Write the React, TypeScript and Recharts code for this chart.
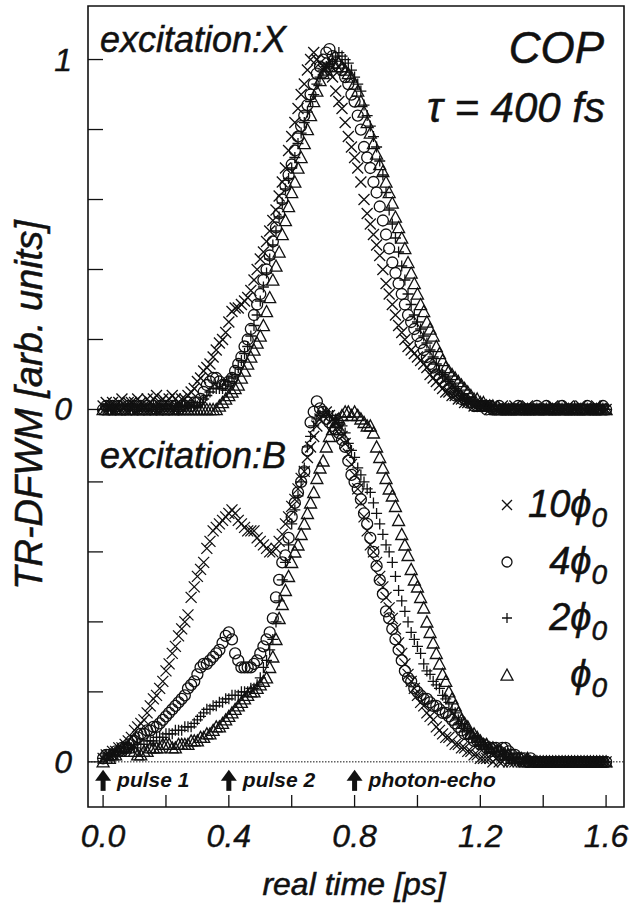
import React from "react";
import { ScatterChart, Scatter, XAxis, YAxis, ReferenceLine, ReferenceArea } from "recharts";

const W = 637;
const H = 905;
const DT = 0.01; // sampling step of the delay scan [ps]
const TOP_OFFSET = 1.007; // excitation:X traces are stacked above excitation:B
const X_MIN = -0.048;
const X_MAX = 1.657;
const Y_MIN = -0.129;
const Y_MAX = 2.16;

const X_TICKS = [0, 0.2, 0.4, 0.6, 0.8, 1.0, 1.2, 1.4, 1.6];
const X_TICK_LABELS = ["0.0", "", "0.4", "", "0.8", "", "1.2", "", "1.6"];
const PANEL_TICKS_BOTTOM = [0, 0.2, 0.4, 0.6, 0.8];
const PANEL_TICKS_TOP = [0, 0.2, 0.4, 0.6, 0.8, 1.0];

const PULSE_TIMES = [0, 0.4, 0.8];
const PULSE_LABELS = ["pulse 1", "pulse 2", "photon-echo"];
const PULSE_LEVEL = -0.06;

// excitation:X, 0.00 .. 1.60 ps
const TOP_10 = [
  0.01, 0.02, 0.01, 0.02, 0.01, 0.02, 0.03, 0.01, 0.02, 0.02,
  0.02, 0.03, 0.02, 0.01, 0.03, 0.02, 0.03, 0.04, 0.02, 0.03,
  0.02, 0.03, 0.04, 0.03, 0.02, 0.03, 0.03, 0.04, 0.05, 0.06,
  0.08, 0.09, 0.11, 0.12, 0.13, 0.15, 0.17, 0.19, 0.2, 0.22,
  0.25, 0.28, 0.29, 0.29, 0.3, 0.31, 0.32, 0.34, 0.37, 0.4,
  0.43, 0.45, 0.48, 0.51, 0.54, 0.57, 0.61, 0.65, 0.69, 0.74,
  0.78, 0.82, 0.86, 0.9, 0.93, 0.97, 1.0, 1.02, 1.0, 0.99,
  0.97, 0.98, 0.96, 0.95, 0.91, 0.88, 0.86, 0.82, 0.78, 0.75,
  0.72, 0.69, 0.65, 0.6, 0.56, 0.53, 0.5, 0.47, 0.44, 0.4,
  0.36, 0.33, 0.3, 0.27, 0.24, 0.22, 0.2, 0.18, 0.17, 0.16,
  0.15, 0.14, 0.13, 0.12, 0.1, 0.09, 0.08, 0.07, 0.06, 0.05,
  0.05, 0.04, 0.04, 0.03, 0.03, 0.02, 0.02, 0.02, 0.01, 0.01,
  0.01, 0.01, 0.01, 0, 0.01, 0, 0, 0.01, 0, 0,
  0, 0.01, 0, 0, 0, 0.01, 0, 0, 0, 0,
  0, 0, 0, 0.01, 0, 0, 0, 0, 0.01, 0,
  0, 0, 0.01, 0, 0, 0, 0, 0.01, 0, 0,
  0,
];
const TOP_4 = [
  0, 0.01, 0, 0.01, 0, 0.01, 0, 0, 0.01, 0,
  0.01, 0, 0.01, 0, 0.01, 0, 0.01, 0, 0.01, 0,
  0.01, 0, 0.01, 0.01, 0, 0.01, 0.01, 0.02, 0.01, 0.02,
  0.02, 0.03, 0.05, 0.07, 0.08, 0.09, 0.09, 0.08, 0.07, 0.07,
  0.08, 0.09, 0.11, 0.13, 0.15, 0.18, 0.2, 0.23, 0.27, 0.3,
  0.33, 0.37, 0.4, 0.44, 0.48, 0.52, 0.56, 0.6, 0.64, 0.67,
  0.7, 0.74, 0.78, 0.81, 0.84, 0.87, 0.9, 0.93, 0.96, 0.98,
  1.0, 1.02, 1.03, 1.01, 0.99, 0.98, 0.97, 0.95, 0.93, 0.9,
  0.88, 0.84, 0.8, 0.75, 0.72, 0.69, 0.65, 0.62, 0.58, 0.54,
  0.5, 0.46, 0.42, 0.39, 0.36, 0.33, 0.3, 0.27, 0.25, 0.23,
  0.21, 0.19, 0.17, 0.15, 0.13, 0.12, 0.1, 0.09, 0.08, 0.07,
  0.06, 0.05, 0.04, 0.04, 0.03, 0.03, 0.02, 0.02, 0.01, 0.01,
  0.01, 0.01, 0, 0.01, 0, 0, 0.01, 0, 0, 0,
  0, 0, 0.01, 0, 0, 0, 0, 0, 0.01, 0,
  0, 0.01, 0, 0, 0, 0, 0.01, 0, 0, 0,
  0, 0, 0, 0, 0.01, 0, 0, 0, 0, 0.01,
  0,
];
const TOP_2 = [
  0, 0, 0.01, 0, 0, 0.01, 0, 0, 0, 0.01,
  0, 0, 0.01, 0, 0, 0, 0.01, 0, 0, 0,
  0.01, 0, 0, 0.01, 0, 0.01, 0.01, 0.01, 0.02, 0.01,
  0.01, 0.02, 0.03, 0.04, 0.05, 0.06, 0.06, 0.06, 0.06, 0.07,
  0.08, 0.09, 0.1, 0.12, 0.14, 0.16, 0.18, 0.21, 0.24, 0.27,
  0.31, 0.35, 0.39, 0.43, 0.47, 0.51, 0.55, 0.59, 0.63, 0.66,
  0.69, 0.72, 0.76, 0.79, 0.82, 0.85, 0.88, 0.9, 0.93, 0.95,
  0.97, 0.98, 0.99, 1.0, 1.01, 1.02, 1.01, 1.0, 0.99, 0.97,
  0.95, 0.93, 0.91, 0.87, 0.84, 0.81, 0.78, 0.75, 0.71, 0.67,
  0.62, 0.57, 0.53, 0.49, 0.45, 0.41, 0.37, 0.33, 0.3, 0.27,
  0.25, 0.23, 0.21, 0.19, 0.17, 0.15, 0.13, 0.11, 0.1, 0.09,
  0.08, 0.07, 0.06, 0.05, 0.04, 0.03, 0.03, 0.02, 0.02, 0.01,
  0.01, 0.01, 0.01, 0, 0.01, 0, 0, 0, 0, 0,
  0, 0, 0, 0.01, 0, 0, 0, 0, 0, 0,
  0, 0, 0, 0, 0, 0.01, 0, 0, 0, 0,
  0.01, 0, 0, 0, 0, 0, 0, 0, 0.01, 0,
  0,
];
const TOP_1 = [
  0, 0, 0, 0, 0, 0, 0, 0, 0, 0,
  0, 0, 0, 0, 0, 0, 0, 0, 0, 0,
  0, 0, 0, 0, 0, 0, 0, 0, 0, 0,
  0, 0, 0, 0, 0, 0, 0, 0.01, 0.02, 0.03,
  0.04, 0.05, 0.06, 0.07, 0.09, 0.11, 0.13, 0.15, 0.17, 0.19,
  0.21, 0.24, 0.28, 0.32, 0.37, 0.41, 0.45, 0.5, 0.54, 0.58,
  0.62, 0.65, 0.69, 0.72, 0.76, 0.8, 0.84, 0.88, 0.91, 0.94,
  0.96, 0.97, 0.98, 0.99, 0.98, 0.99, 0.98, 0.97, 0.96, 0.95,
  0.93, 0.91, 0.88, 0.85, 0.82, 0.79, 0.76, 0.73, 0.7, 0.68,
  0.65, 0.62, 0.59, 0.55, 0.52, 0.49, 0.46, 0.42, 0.39, 0.36,
  0.33, 0.3, 0.28, 0.25, 0.23, 0.21, 0.18, 0.16, 0.14, 0.12,
  0.11, 0.1, 0.09, 0.08, 0.07, 0.06, 0.05, 0.04, 0.03, 0.03,
  0.02, 0.02, 0.01, 0.01, 0.01, 0, 0, 0, 0, 0,
  0, 0, 0, 0, 0, 0, 0, 0, 0, 0,
  0, 0, 0, 0, 0, 0, 0, 0, 0, 0,
  0, 0, 0, 0, 0, 0, 0, 0, 0, 0,
  0,
];

// excitation:B, 0.00 .. 1.60 ps
const BOT_10 = [
  0.01, 0.02, 0.02, 0.03, 0.03, 0.04, 0.04, 0.05, 0.06, 0.07,
  0.09, 0.1, 0.11, 0.12, 0.14, 0.16, 0.18, 0.19, 0.21, 0.23,
  0.26, 0.28, 0.31, 0.33, 0.36, 0.38, 0.4, 0.42, 0.47, 0.5,
  0.53, 0.55, 0.57, 0.61, 0.63, 0.66, 0.67, 0.68, 0.69, 0.7,
  0.71, 0.72, 0.71, 0.69, 0.68, 0.67, 0.66, 0.66, 0.66, 0.64,
  0.63, 0.62, 0.61, 0.6, 0.6, 0.61, 0.63, 0.65, 0.68, 0.7,
  0.73, 0.75, 0.78, 0.81, 0.83, 0.87, 0.9, 0.93, 0.96, 0.98,
  0.99, 1.0, 0.99, 0.98, 0.97, 0.95, 0.93, 0.91, 0.88, 0.85,
  0.82, 0.78, 0.74, 0.7, 0.66, 0.62, 0.6, 0.57, 0.53, 0.5,
  0.47, 0.44, 0.41, 0.38, 0.34, 0.31, 0.28, 0.25, 0.23, 0.21,
  0.19, 0.17, 0.16, 0.14, 0.13, 0.12, 0.1, 0.09, 0.08, 0.07,
  0.07, 0.06, 0.05, 0.05, 0.04, 0.04, 0.03, 0.03, 0.02, 0.02,
  0.01, 0.01, 0.01, 0.01, 0, 0.01, 0, 0, 0.01, 0,
  0, 0, 0, 0, 0, 0, 0, 0, 0, 0,
  0, 0, 0, 0, 0, 0, 0, 0, 0, 0,
  0, 0, 0, 0, 0, 0, 0, 0, 0, 0,
  0,
];
const BOT_4 = [
  0.01, 0.02, 0.02, 0.02, 0.03, 0.03, 0.04, 0.04, 0.05, 0.06,
  0.06, 0.07, 0.08, 0.08, 0.09, 0.09, 0.1, 0.1, 0.11, 0.12,
  0.13, 0.14, 0.15, 0.16, 0.17, 0.18, 0.19, 0.21, 0.22, 0.23,
  0.25, 0.27, 0.28, 0.28, 0.29, 0.3, 0.31, 0.32, 0.34, 0.36,
  0.37, 0.35, 0.31, 0.29, 0.27, 0.27, 0.27, 0.27, 0.28, 0.29,
  0.31, 0.33, 0.35, 0.37, 0.41, 0.47, 0.52, 0.57, 0.59, 0.64,
  0.7, 0.74, 0.77, 0.8, 0.83, 0.89, 0.97, 1.0, 1.03, 1.01,
  1.0, 0.98, 0.97, 0.96, 0.95, 0.94, 0.92, 0.9, 0.86, 0.82,
  0.8, 0.78, 0.75, 0.71, 0.68, 0.64, 0.6, 0.56, 0.52, 0.48,
  0.43, 0.41, 0.38, 0.35, 0.32, 0.29, 0.26, 0.24, 0.23, 0.21,
  0.2, 0.19, 0.18, 0.18, 0.17, 0.16, 0.16, 0.15, 0.14, 0.14,
  0.13, 0.12, 0.11, 0.1, 0.09, 0.08, 0.08, 0.07, 0.06, 0.06,
  0.05, 0.05, 0.04, 0.04, 0.04, 0.04, 0.03, 0.04, 0.04, 0.03,
  0.02, 0.02, 0.01, 0.01, 0.01, 0, 0.01, 0, 0, 0,
  0, 0, 0, 0, 0, 0, 0, 0, 0, 0,
  0, 0, 0, 0, 0, 0, 0, 0, 0, 0,
  0,
];
const BOT_2 = [
  0.01, 0.01, 0.02, 0.02, 0.02, 0.03, 0.03, 0.03, 0.04, 0.04,
  0.04, 0.05, 0.05, 0.05, 0.06, 0.06, 0.06, 0.07, 0.07, 0.07,
  0.08, 0.08, 0.08, 0.09, 0.09, 0.09, 0.1, 0.1, 0.1, 0.11,
  0.12, 0.13, 0.14, 0.15, 0.15, 0.16, 0.16, 0.17, 0.17, 0.18,
  0.18, 0.19, 0.19, 0.19, 0.2, 0.2, 0.2, 0.21, 0.21, 0.22,
  0.24, 0.27, 0.29, 0.32, 0.35, 0.4, 0.46, 0.52, 0.57, 0.62,
  0.68, 0.72, 0.76, 0.8, 0.84, 0.9, 0.93, 0.96, 0.98, 0.99,
  1.0, 1.0, 0.99, 0.99, 0.98, 0.97, 0.96, 0.94, 0.91, 0.89,
  0.87, 0.84, 0.82, 0.8, 0.78, 0.77, 0.74, 0.71, 0.68, 0.65,
  0.62, 0.6, 0.57, 0.53, 0.49, 0.46, 0.43, 0.4, 0.37, 0.35,
  0.33, 0.31, 0.28, 0.26, 0.25, 0.23, 0.22, 0.21, 0.19, 0.18,
  0.17, 0.15, 0.14, 0.12, 0.11, 0.1, 0.09, 0.08, 0.07, 0.06,
  0.05, 0.05, 0.04, 0.04, 0.03, 0.03, 0.02, 0.02, 0.02, 0.01,
  0.01, 0.01, 0.01, 0, 0, 0.01, 0, 0, 0, 0,
  0, 0, 0, 0, 0, 0, 0, 0, 0, 0,
  0, 0, 0, 0, 0, 0, 0, 0, 0, 0,
  0,
];
const BOT_1 = [
  0, 0.01, 0.01, 0.02, 0.02, 0.03, 0.04, 0.04, 0.04, 0.03,
  0.03, 0.02, 0.02, 0.03, 0.03, 0.04, 0.04, 0.04, 0.04, 0.05,
  0.05, 0.05, 0.04, 0.04, 0.05, 0.05, 0.05, 0.05, 0.06, 0.06,
  0.06, 0.07, 0.07, 0.08, 0.08, 0.09, 0.1, 0.1, 0.11, 0.12,
  0.13, 0.14, 0.15, 0.16, 0.17, 0.18, 0.19, 0.2, 0.2, 0.21,
  0.22, 0.23, 0.24, 0.27, 0.3, 0.35, 0.41, 0.45, 0.49, 0.53,
  0.57, 0.6, 0.62, 0.65, 0.68, 0.71, 0.74, 0.77, 0.81, 0.84,
  0.86, 0.9, 0.93, 0.95, 0.97, 0.98, 0.99, 1.0, 1.0, 0.99,
  1.0, 0.99, 0.98, 0.97, 0.96, 0.96, 0.94, 0.9, 0.87, 0.84,
  0.81, 0.78, 0.76, 0.73, 0.69, 0.65, 0.62, 0.59, 0.55, 0.52,
  0.5, 0.47, 0.44, 0.4, 0.37, 0.34, 0.31, 0.28, 0.25, 0.23,
  0.2, 0.18, 0.16, 0.14, 0.12, 0.11, 0.1, 0.08, 0.08, 0.07,
  0.06, 0.05, 0.05, 0.04, 0.04, 0.03, 0.03, 0.02, 0.02, 0.02,
  0.01, 0.01, 0.01, 0.01, 0, 0.01, 0, 0, 0, 0,
  0, 0, 0, 0, 0, 0, 0, 0, 0, 0,
  0, 0, 0, 0, 0, 0, 0, 0, 0, 0,
  0,
];

const INK = "#111";
const FONT = "'Liberation Sans', Arial, Helvetica, sans-serif";
const MARK_W = 1.3;

const toPoints = (vals: number[], offset = 0) =>
  vals.map((v, i) => ({ t: Math.round(i * DT * 100) / 100, v: v + offset }));

type MarkProps = { cx: number; cy: number; s?: number };

function CrossMark({ cx, cy, s = 5.5 }: MarkProps) {
  return (
    <path
      d={`M${cx - s} ${cy - s}L${cx + s} ${cy + s}M${cx - s} ${cy + s}L${cx + s} ${cy - s}`}
      stroke={INK}
      strokeWidth={MARK_W}
      fill="none"
    />
  );
}

function CircleMark({ cx, cy, s = 5.5 }: MarkProps) {
  return <circle cx={cx} cy={cy} r={s} stroke={INK} strokeWidth={MARK_W} fill="none" />;
}

function PlusMark({ cx, cy, s = 5.5 }: MarkProps) {
  return (
    <path d={`M${cx - s} ${cy}L${cx + s} ${cy}M${cx} ${cy - s}L${cx} ${cy + s}`} stroke={INK} strokeWidth={MARK_W} fill="none" />
  );
}

function TriangleMark({ cx, cy, s = 6 }: MarkProps) {
  return (
    <polygon
      points={`${cx},${cy - s} ${cx + s},${cy + s * 0.85} ${cx - s},${cy + s * 0.85}`}
      stroke={INK}
      strokeWidth={MARK_W}
      fill="none"
    />
  );
}

const SERIES = [
  { key: "10", label: "10", top: TOP_10, bottom: BOT_10, Mark: CrossMark },
  { key: "4", label: "4", top: TOP_4, bottom: BOT_4, Mark: CircleMark },
  { key: "2", label: "2", top: TOP_2, bottom: BOT_2, Mark: PlusMark },
  { key: "1", label: "", top: TOP_1, bottom: BOT_1, Mark: TriangleMark },
];

const Y_TICKS = [...PANEL_TICKS_BOTTOM, ...PANEL_TICKS_TOP.map((v) => v + TOP_OFFSET)];
const Y_TICK_LABELS = ["0", "", "", "", "", "0", "", "", "", "", "1"];

function XTick(props: any) {
  const { x, y, index } = props;
  const label = X_TICK_LABELS[index];
  return (
    <g>
      <line x1={x} y1={y} x2={x} y2={y - 12} stroke={INK} strokeWidth={1.3} />
      {label && (
        <text x={x} y={y + 40} textAnchor="middle" fontSize={32} fontStyle="italic" fontFamily={FONT} fill={INK} stroke={INK} strokeWidth={0.4}>
          {label}
        </text>
      )}
    </g>
  );
}

function YTick(props: any) {
  const { x, y, index } = props;
  const label = Y_TICK_LABELS[index];
  return (
    <g>
      <line x1={x} y1={y} x2={x + 15} y2={y} stroke={INK} strokeWidth={1.3} />
      {label && (
        <text x={x - 16} y={y + 11} textAnchor="end" fontSize={32} fontStyle="italic" fontFamily={FONT} fill={INK} stroke={INK} strokeWidth={0.4}>
          {label}
        </text>
      )}
    </g>
  );
}

function PulseMark(props: any) {
  const { cx, cy, payload } = props;
  return (
    <g>
      <polygon points={`${cx - 8},${cy - 2} ${cx},${cy - 13} ${cx + 8},${cy - 2}`} fill={INK} />
      <rect x={cx - 2.5} y={cy - 3} width={5} height={11} fill={INK} />
      <text x={cx + 14} y={cy + 4} fontSize={21} fontStyle="italic" fontWeight={700} fontFamily={FONT} fill={INK}>
        {payload.label}
      </text>
    </g>
  );
}

const pulseData = PULSE_TIMES.map((t, i) => ({ t, v: PULSE_LEVEL, label: PULSE_LABELS[i] }));

const LEGEND_X = 507;
const LEGEND_TEXT_X = 607;
const LEGEND_ROWS = [505, 562, 618, 675];

export default function App() {
  return (
    <div style={{ position: "absolute", left: 0, top: 0, width: W, height: H, background: "#fff" }}>
      <ScatterChart width={W} height={H} margin={{ top: 6, right: 13, bottom: 0, left: 0 }}>
        <XAxis
          type="number"
          dataKey="t"
          domain={[X_MIN, X_MAX]}
          allowDataOverflow
          ticks={X_TICKS}
          interval={0}
          height={98}
          axisLine={false}
          tickLine={false}
          tickSize={0}
          tickMargin={0}
          tick={<XTick />}
        />
        <YAxis
          type="number"
          dataKey="v"
          domain={[Y_MIN, Y_MAX]}
          allowDataOverflow
          ticks={Y_TICKS}
          interval={0}
          width={88}
          axisLine={false}
          tickLine={false}
          tickSize={0}
          tickMargin={0}
          tick={<YTick />}
        />
        <ReferenceLine y={0} stroke={INK} strokeWidth={1} strokeDasharray="1.5 1.5" />
        {SERIES.map(({ key, top, Mark }) => (
          <Scatter
            key={`top-${key}`}
            data={toPoints(top, TOP_OFFSET)}
            isAnimationActive={false}
            shape={(p: any) => <Mark cx={p.cx} cy={p.cy} />}
          />
        ))}
        {SERIES.map(({ key, bottom, Mark }) => (
          <Scatter
            key={`bot-${key}`}
            data={toPoints(bottom)}
            isAnimationActive={false}
            shape={(p: any) => <Mark cx={p.cx} cy={p.cy} />}
          />
        ))}
        <Scatter data={pulseData} isAnimationActive={false} shape={(p: any) => <PulseMark {...p} />} />
        <ReferenceArea
          x1={X_MIN}
          x2={X_MAX}
          y1={Y_MIN}
          y2={Y_MAX}
          fill="none"
          fillOpacity={0}
          stroke={INK}
          strokeWidth={1.6}
          ifOverflow="visible"
        />
      </ScatterChart>

      <svg width={W} height={H} style={{ position: "absolute", left: 0, top: 0, pointerEvents: "none" }}>
        <g fontFamily={FONT} fontStyle="italic" fill={INK} stroke={INK} strokeWidth={0.5}>
          <text x={100} y={52} fontSize={36}>excitation:X</text>
          <text x={100} y={468} fontSize={36}>excitation:B</text>
          <text x={604} y={63} fontSize={44} textAnchor="end">COP</text>
          <text x={605} y={122} fontSize={42} textAnchor="end">τ = 400 fs</text>
          <text x={354} y={895} fontSize={32} textAnchor="middle">real time [ps]</text>
          <text x={42} y={405} fontSize={38} textAnchor="middle" transform="rotate(-90 42 405)">
            TR-DFWM [arb. units]
          </text>
          {SERIES.map(({ key, label, Mark }, i) => (
            <g key={`leg-${key}`}>
              <Mark cx={LEGEND_X} cy={LEGEND_ROWS[i]} s={i === 3 ? 6 : 5} />
              <text x={LEGEND_TEXT_X} y={LEGEND_ROWS[i] + 12} fontSize={38} textAnchor="end">
                <tspan>{label}ϕ</tspan>
                <tspan fontSize={28} dy={10}>0</tspan>
              </text>
            </g>
          ))}
        </g>
      </svg>
    </div>
  );
}
